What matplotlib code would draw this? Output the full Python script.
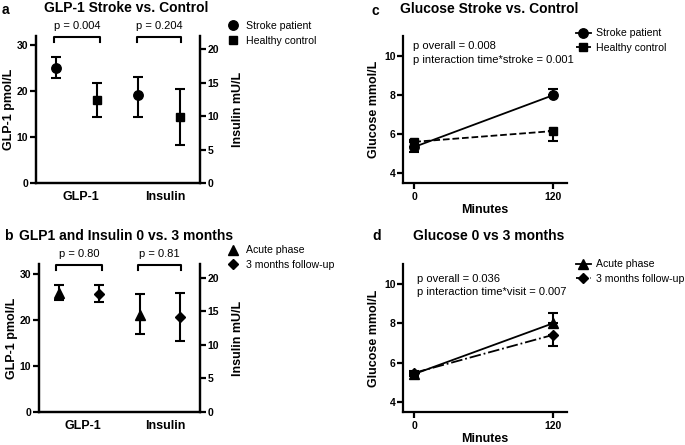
import matplotlib
matplotlib.use("Agg")
import matplotlib.pyplot as plt
from matplotlib.lines import Line2D

plt.rcParams['font.family'] = ['Liberation Sans', 'DejaVu Sans']

# panel a: mean and error bar ends (lo, hi)
a_glp = [25.1, 18.0]
a_glp_lo = [22.8, 14.3]
a_glp_hi = [27.4, 21.7]
a_ins = [13.2, 9.85]
a_ins_lo = [9.8, 5.7]
a_ins_hi = [15.9, 14.0]
a_groups = ['Stroke patient', 'Healthy control']
a_p = ['p = 0.004', 'p = 0.204']

# panel b
b_glp = [25.7, 25.6]
b_glp_lo = [24.3, 23.8]
b_glp_hi = [27.6, 27.5]
b_ins = [14.5, 14.2]
b_ins_lo = [11.6, 10.6]
b_ins_hi = [17.6, 17.8]
b_groups = ['Acute phase', '3 months follow-up']
b_p = ['p = 0.80', 'p = 0.81']

categories = ['GLP-1', 'Insulin']

# panel c / d: glucose at 0 and 120 min, (lower, upper) error
minutes = [0, 120]
c_stroke = [5.33, 7.97]
c_stroke_err = [[0.25, 0], [0, 0.33]]
c_control = [5.59, 6.14]
c_control_err = [[0, 0.5], [0.1, 0]]
d_acute = [5.42, 8.0]
d_acute_err = [[0.12, 0], [0, 0.52]]
d_follow = [5.48, 7.41]
d_follow_err = [[0, 0.55], [0.08, 0]]

BOLD = 'bold'
LW = 1.6
TICK_FS = 7.5
LABEL_FS = 9
TEXT_FS = 8
LEG_FS = 7.6
MS = {'o': 6.8, 's': 6.2, '^': 6.8, 'D': 5.6}

fig = plt.figure(figsize=(6.85, 4.45), dpi=100)


def style_axis(ax):
    ax.spines['top'].set_visible(False)
    for s in ax.spines.values():
        s.set_linewidth(LW)
    ax.tick_params(width=LW, length=4, labelsize=TICK_FS, pad=1.5)
    for lab in ax.get_xticklabels() + ax.get_yticklabels():
        lab.set_fontweight(BOLD)


def glp_panel(rect, glp, glp_lo, glp_hi, ins, ins_lo, ins_hi, markers, groups, ptxt,
              legend_y):
    ax = fig.add_axes(rect)
    ax2 = ax.twinx()
    for i in range(2):
        m = markers[i]
        ax.errorbar(i, glp[i], yerr=[[glp[i] - glp_lo[i]], [glp_hi[i] - glp[i]]],
                    fmt=m, color='black', ms=MS[m], capsize=3.5,
                    elinewidth=1.5, capthick=1.5)
        ax2.errorbar(2 + i, ins[i], yerr=[[ins[i] - ins_lo[i]], [ins_hi[i] - ins[i]]],
                     fmt=m, color='black', ms=MS[m], capsize=3.5,
                     elinewidth=1.5, capthick=1.5)
    ax.set_xlim(-0.5, 3.5)
    ax.set_ylim(0, 32)
    ax2.set_ylim(0, 22)
    ax.set_yticks([0, 10, 20, 30])
    ax2.set_yticks([0, 5, 10, 15, 20])
    ax.set_xticks([0.6, 2.65])
    ax.set_xticklabels(categories)
    style_axis(ax)
    style_axis(ax2)
    ax.tick_params(axis='x', length=0, pad=6)
    for lab in ax.get_xticklabels():
        lab.set_fontsize(LABEL_FS)
    ax.set_ylabel('GLP-1 pmol/L', fontsize=LABEL_FS, fontweight=BOLD, labelpad=1)
    ax2.set_ylabel('Insulin mU/L', fontsize=LABEL_FS, fontweight=BOLD, labelpad=9)
    # significance brackets
    for (x0, x1), t in zip([(-0.06, 1.06), (1.97, 3.03)], ptxt):
        ax.plot([x0, x0, x1, x1], [30.7, 31.8, 31.8, 30.7], color='black',
                lw=1.5, clip_on=False)
        ax.text((x0 + x1) / 2, 34.2, t, ha='center', va='center', fontsize=TEXT_FS)
    handles = [Line2D([], [], marker=m, color='black', ls='none', ms=MS[m])
               for m in markers]
    fig.legend(handles, groups, loc='upper left', bbox_to_anchor=(0.325, legend_y),
               frameon=False, fontsize=LEG_FS, handlelength=1.2, handletextpad=0.6,
               labelspacing=0.45, borderaxespad=0)
    return ax


def glucose_panel(rect, s1, e1, s2, e2, markers, styles, groups, lines, text_y,
                  text_x, legend_y):
    ax = fig.add_axes(rect)
    ax.errorbar(minutes, s1, yerr=e1, fmt=markers[0], ls=styles[0],
                color='black', ms=MS[markers[0]], lw=1.3, capsize=3.5,
                elinewidth=1.5, capthick=1.5)
    ax.errorbar(minutes, s2, yerr=e2, fmt=markers[1], ls=styles[1],
                color='black', ms=MS[markers[1]], lw=1.3, capsize=3.5,
                elinewidth=1.5, capthick=1.5)
    ax.set_xlim(-9.5, 132)
    ax.set_ylim(3.5, 11)
    ax.set_yticks([4, 6, 8, 10])
    ax.set_xticks(minutes)
    ax.spines['right'].set_visible(False)
    style_axis(ax)
    ax.tick_params(axis='x', pad=3)
    ax.set_xlabel('Minutes', fontsize=LABEL_FS, fontweight=BOLD, labelpad=1)
    ax.set_ylabel('Glucose mmol/L', fontsize=LABEL_FS, fontweight=BOLD, labelpad=3)
    ax.text(text_x, text_y[0], lines[0], transform=ax.transAxes, fontsize=TEXT_FS,
            va='center')
    ax.text(text_x, text_y[1], lines[1], transform=ax.transAxes, fontsize=TEXT_FS,
            va='center')
    handles = [Line2D([], [], marker=m, color='black', ls=s, ms=MS[m], lw=1.3)
               for m, s in zip(markers, styles)]
    fig.legend(handles, groups, loc='upper left', bbox_to_anchor=(0.834, legend_y),
               frameon=False, fontsize=LEG_FS, handlelength=1.5, handletextpad=0.4,
               labelspacing=0.45, borderaxespad=0)
    return ax


glp_panel([0.0525, 0.589, 0.2395, 0.33], a_glp, a_glp_lo, a_glp_hi, a_ins, a_ins_lo,
          a_ins_hi, ['o', 's'], a_groups, a_p, 0.962)
glp_panel([0.0565, 0.0748, 0.2355, 0.331], b_glp, b_glp_lo, b_glp_hi, b_ins, b_ins_lo,
          b_ins_hi, ['^', 'D'], b_groups, b_p, 0.458)
glucose_panel([0.5888, 0.5894, 0.2385, 0.3296], c_stroke, c_stroke_err, c_control,
              c_control_err, ['o', 's'], ['-', '--'], a_groups,
              ['p overall = 0.008', 'p interaction time*stroke = 0.001'],
              (0.934, 0.836), 0.061, 0.946)
glucose_panel([0.5888, 0.0748, 0.2385, 0.331], d_acute, d_acute_err, d_follow,
              d_follow_err, ['^', 'D'], ['-', '-.'], b_groups,
              ['p overall = 0.036', 'p interaction time*visit = 0.007'],
              (0.90, 0.81), 0.084, 0.427)

# titles and panel letters
fig.text(0.184, 0.982, 'GLP-1 Stroke vs. Control', ha='center', va='center',
         fontsize=10, fontweight=BOLD)
fig.text(0.184, 0.47, 'GLP1 and Insulin 0 vs. 3 months', ha='center', va='center',
         fontsize=10, fontweight=BOLD)
fig.text(0.714, 0.98, 'Glucose Stroke vs. Control', ha='center', va='center',
         fontsize=10, fontweight=BOLD)
fig.text(0.714, 0.47, 'Glucose 0 vs 3 months', ha='center', va='center',
         fontsize=10, fontweight=BOLD)
fig.text(0.002, 0.977, 'a', fontsize=10, fontweight=BOLD, va='center')
fig.text(0.006, 0.47, 'b', fontsize=10, fontweight=BOLD, va='center')
fig.text(0.542, 0.975, 'c', fontsize=10, fontweight=BOLD, va='center')
fig.text(0.543, 0.47, 'd', fontsize=10, fontweight=BOLD, va='center')

fig.savefig('out.png', dpi=100)
